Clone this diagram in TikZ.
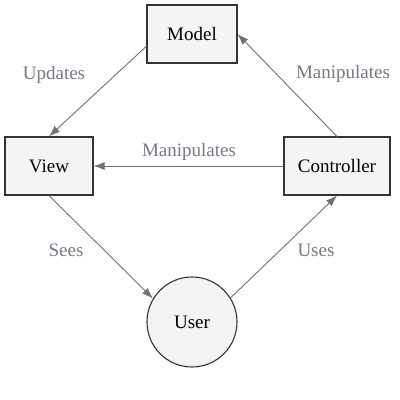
\documentclass[tikz,border=0pt]{standalone}
\usepackage{fontspec}
\setmainfont{Liberation Serif}
\usetikzlibrary{arrows.meta}
\definecolor{boxfill}{HTML}{F4F4F4}
\definecolor{boxline}{HTML}{333333}
\definecolor{arrowgray}{HTML}{6E6E7E}
\definecolor{labelgray}{HTML}{777788}
\begin{document}
\begin{tikzpicture}[x=1pt,y=-1pt,
  every node/.style={font=\fontsize{19}{23}\selectfont},
  box/.style={draw=boxline,fill=boxfill,line width=1.1pt,minimum height=58pt,inner sep=0pt},
  user/.style={circle,draw=boxline,fill=boxfill,line width=1.1pt,minimum size=90pt,inner sep=0pt},
  conn/.style={draw=arrowgray,line width=0.9pt,-{Latex[length=11pt,width=8pt]}},
  lbl/.style={text=labelgray}]
\useasboundingbox (0,0) rectangle (400,400);

% components
\node[box,minimum width=90pt] (model) at (192,34) {Model};
\node[box,minimum width=88pt] (view) at (49,166) {View};
\node[box,minimum width=106pt] (controller) at (337,166) {Controller};
\node[user] (user) at (192,322) {User};

% arrows
\draw[conn] (model.195) -- (view.north);
\draw[conn] (controller.north) -- (model.east);
\draw[conn] (controller.west) -- (view.east);
\draw[conn] (view.south) -- (user.149);
\draw[conn] (user.32) -- (controller.south);

% labels
\node[lbl] (updates) at (54,75) {Updates};
\node[lbl] (manipmodel) at (343,74) {Manipulates};
\node[lbl] (manipview) at (189,152) {Manipulates};
\node[lbl] (sees) at (66,250) {Sees};
\node[lbl] (uses) at (316,250) {Uses};
\end{tikzpicture}
\end{document}
